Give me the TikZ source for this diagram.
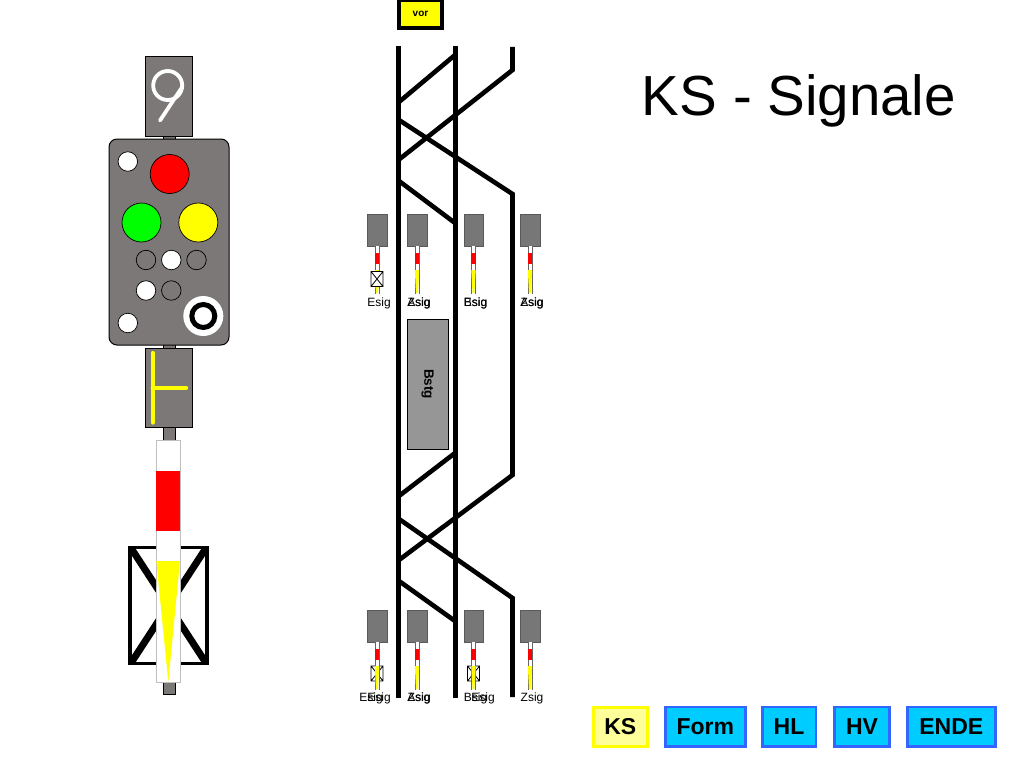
\documentclass[tikz,border=0pt]{standalone}
\usepackage{fontspec}
\setmainfont{Liberation Sans}
\usetikzlibrary{positioning}
\definecolor{sigGrey}{HTML}{7D7878}
\definecolor{miniGrey}{HTML}{777777}
\definecolor{platGrey}{HTML}{969696}
\definecolor{sigYellow}{HTML}{FFFF00}
\definecolor{sigGreen}{HTML}{00FF00}
\definecolor{sigRed}{HTML}{FF0000}
\definecolor{menuBlue}{HTML}{00CCFF}
\definecolor{menuEdge}{HTML}{3366FF}
\definecolor{menuPale}{HTML}{FFFF99}
% one small signal: head, post and board
\newcommand{\minisig}[3]{%
  \node[minibox] (#1head) at (#2,#3) {};
  \fill[white] (#2-2,#3+16) rectangle (#2+2,#3+64);
  \draw[black!60,line width=.6pt] (#2-2,#3+16) -- (#2-2,#3+64) (#2+2,#3+16) -- (#2+2,#3+64);
  \fill[sigRed] (#2-2.2,#3+23) rectangle (#2+2.2,#3+34);
  \fill[sigYellow] (#2-2.2,#3+40) -- (#2+2.2,#3+40) -- (#2+1,#3+63) -- (#2-1,#3+63) -- cycle;
}
\newcommand{\minix}[2]{\draw[black, fill=white, line width=.8pt] (#1-6,#2) rectangle (#1+6,#2+15) (#1-6,#2) -- (#1+6,#2+15) (#1+6,#2) -- (#1-6,#2+15);}
\begin{document}
\begin{tikzpicture}[x=1pt,y=-1pt,
    lamp/.style={circle, draw=black, line width=.7pt, inner sep=0pt},
    big/.style={lamp, minimum size=39pt},
    small/.style={lamp, minimum size=19.5pt},
    track/.style={line width=4.6pt, line cap=butt, line join=miter},
    minibox/.style={draw=black!65, fill=miniGrey, line width=.5pt, minimum width=19.5pt, minimum height=32pt, inner sep=0pt},
    sigbox/.style={draw=black, fill=sigGrey, line width=1pt, minimum width=47pt, minimum height=79.5pt, inner sep=0pt},
    siglabel/.style={font=\fontsize{12}{14}\selectfont, inner sep=0pt},
    menu/.style={draw=menuEdge, fill=menuBlue, line width=2.5pt, minimum height=39.5pt, inner sep=0pt, font=\fontsize{23}{26}\selectfont\bfseries}]
  \useasboundingbox (0,0) rectangle (1024,768);

  % large signal
  \fill[sigGrey, draw=black, line width=.6pt] (163,427) rectangle (175,694);
  \fill[sigGrey, draw=black, line width=.6pt] (163,135) rectangle (175,350);
  \node[sigbox] (nine) at (168.5,96.5) {};
  \draw[white, line width=3.8pt] (167.7,85.5) circle (14.5);
  \draw[white, line width=3.8pt, line cap=round] (182.2,87) -- (160,120.5);
  \node[sigbox] (tee) at (169,388) {};
  \draw[sigYellow, line width=4.2pt, line cap=round] (152.7,353) -- (152.7,422.5) (152.7,387.7) -- (186,387.7);
  \node[draw=black, fill=sigGrey, line width=1pt, rounded corners=8pt, minimum width=120pt, minimum height=206pt, inner sep=0pt] (housing) at (169,242) {};
  \node[small, fill=white] (tl) at (127.8,161.5) {};
  \node[big, fill=sigRed] (red) at (169.7,174) {};
  \node[big, fill=sigGreen] (grn) at (141.5,222.5) {};
  \node[big, fill=sigYellow] (yel) at (198.3,222.5) {};
  \node[small, fill=sigGrey] (a1) at (146,260) {};
  \node[small, fill=white] (a2) at (171.3,260) {};
  \node[small, fill=sigGrey] (a3) at (196.5,260) {};
  \node[small, fill=white] (b1) at (146,290.5) {};
  \node[small, fill=sigGrey] (b2) at (171.3,290.5) {};
  \node[small, fill=white] (bl) at (127.8,323) {};
  \node[circle, fill=white, minimum size=40pt, inner sep=0pt] (ringout) at (203.3,316) {};
  \node[circle, draw=black, fill=white, line width=5pt, minimum size=23pt, inner sep=0pt] (ring) at (203.3,316) {};

  % mast sign
  \draw[black, fill=white, line width=3.6pt] (130,547.5) rectangle (207,663.5);
  \draw[black, line width=7pt] (131,548) -- (206,663) (206,548) -- (131,663);
  \fill[white, draw=black!25, line width=.5pt] (156.3,440) rectangle (180,682.3);
  \fill[sigRed] (156.3,470.7) rectangle (180,531.3);
  \fill[sigYellow] (156.3,561) -- (180,561) -- (168.3,682) -- cycle;

  % tracks
  \draw[track] (398.5,46) -- (398.5,698);
  \draw[track] (455.5,46) -- (455.5,698);
  \draw[track] (512.5,47) -- (512.5,70) -- (399,159.5);
  \draw[track] (455,55) -- (399,102);
  \draw[track] (399,120) -- (512.5,194) -- (512.5,475) -- (399,560);
  \draw[track] (399,181) -- (455,223);
  \draw[track] (455,453) -- (399,496);
  \draw[track] (399,519) -- (512.5,598) -- (512.5,697);
  \draw[track] (399,581) -- (455,621);

  % platform
  \node[draw=black, fill=platGrey, line width=1pt, minimum width=41pt, minimum height=130pt, inner sep=0pt] (bstg) at (427.5,384) {};
  \node[rotate=-90, font=\fontsize{13.5}{15}\selectfont\bfseries, inner sep=0pt] (bstgtext) at (bstg) {Bstg};
  \node[draw=black, fill=sigYellow, line width=3.5pt, minimum width=43pt, minimum height=28pt, inner sep=0pt, font=\fontsize{10}{12}\selectfont\bfseries] (vor) at (420.5,14) {vor};

  % small signals
  \minisig{ua}{377}{230}
  \minix{377}{271.5}
  \fill[sigYellow] (375.5,287) -- (378.5,287) -- (377,293) -- cycle;
  \minisig{ub}{417}{230}
  \minisig{uc}{473.5}{230}
  \minisig{ud}{530}{230}
  \minix{377}{666}
  \minix{473.5}{666}
  \minisig{la}{377}{626}
  \minisig{lb}{417}{626}
  \minisig{lc}{473.5}{626}
  \minisig{ld}{530}{626}

  % names, printed on top of one another
  \foreach \xpos/\ypos/\name in {379/303/Esig, 419/303/Asig, 419/303/Zsig, 475.5/303/Esig, 475.5/303/Bsig, 532/303/Asig, 532/303/Zsig,
      371/698.5/Esig, 379/698.5/Esig, 419/698.5/Asig, 419/698.5/Zsig, 483/698.5/Esig, 475.5/698.5/Bsig, 532/698.5/Zsig}
    \node[siglabel] at (\xpos,\ypos) {\name};

  % title and menu
  \node[font=\fontsize{56.5}{60}\selectfont, inner sep=0pt] (title) at (799,101) {KS - Signale};
  \node[draw=sigYellow, fill=menuPale, line width=3pt, minimum width=54pt, minimum height=39pt, inner sep=0pt, font=\fontsize{23}{26}\selectfont\bfseries] (ks) at (620.3,726.7) {KS};
  \node[menu, minimum width=80pt] (form) at (705.3,726.7) {Form};
  \node[menu, minimum width=53.5pt] (hl) at (789,726.7) {HL};
  \node[menu, minimum width=55pt] (hv) at (862,726.7) {HV};
  \node[menu, minimum width=88pt] (ende) at (951.3,726.7) {ENDE};
\end{tikzpicture}
\end{document}
